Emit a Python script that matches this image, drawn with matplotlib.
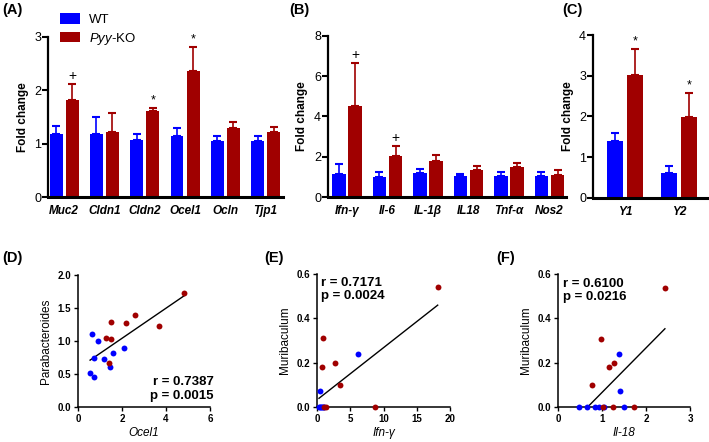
import numpy as np
import matplotlib
matplotlib.use('Agg')
import matplotlib.pyplot as plt
from matplotlib.patches import Patch

plt.rcParams['font.family'] = ['Liberation Sans', 'DejaVu Sans']

blue = '#0000FF'
red = '#A00000'

# (A) barrier genes
genesA = ['Muc2', 'Cldn1', 'Cldn2', 'Ocel1', 'Ocln', 'Tjp1']
wtA = [1.19, 1.18, 1.06, 1.15, 1.05, 1.05]
wtA_err = [0.14, 0.32, 0.12, 0.15, 0.10, 0.10]
koA = [1.82, 1.22, 1.61, 2.37, 1.29, 1.22]
koA_err = [0.29, 0.35, 0.06, 0.44, 0.11, 0.10]
sigA = ['+', '', '*', '*', '', '']

# (B) cytokines
genesB = ['Ifn-γ', 'Il-6', 'IL-1β', 'IL18', 'Tnf-α', 'Nos2']
wtB = [1.16, 0.99, 1.17, 1.02, 1.04, 1.04]
wtB_err = [0.49, 0.23, 0.20, 0.10, 0.18, 0.18]
koB = [4.53, 2.05, 1.77, 1.36, 1.47, 1.07]
koB_err = [2.13, 0.46, 0.30, 0.16, 0.20, 0.25]
sigB = ['+', '+', '', '', '', '']

# (C) receptors
genesC = ['Y1', 'Y2']
wtC = [1.40, 0.61]
wtC_err = [0.20, 0.17]
koC = [3.02, 1.98]
koC_err = [0.63, 0.60]
sigC = ['*', '*']

# (D) Ocel1 vs Parabacteroides
d_wt_x = [0.65, 0.91, 0.74, 1.17, 1.61, 2.10, 1.44, 0.55, 0.73]
d_wt_y = [1.10, 1.00, 0.74, 0.73, 0.82, 0.89, 0.60, 0.51, 0.46]
d_ko_x = [1.52, 1.26, 1.52, 1.40, 2.16, 2.61, 3.66, 4.83]
d_ko_y = [1.29, 1.05, 1.03, 0.67, 1.28, 1.40, 1.23, 1.72]

# (E) Ifn-g vs Muribaculum
e_wt_x = [6.1, 0.4, 0.3, 0.5, 0.6, 0.8, 0.9, 1.0]
e_wt_y = [0.24, 0.07, 0, 0, 0, 0, 0, 0]
e_ko_x = [18.15, 0.95, 0.75, 2.7, 3.5, 8.75, 1.3, 1.1]
e_ko_y = [0.54, 0.31, 0.18, 0.20, 0.10, 0, 0, 0]

# (F) Il-18 vs Muribaculum
f_wt_x = [1.39, 1.40, 0.48, 0.67, 0.84, 0.93, 1.05, 1.50]
f_wt_y = [0.24, 0.07, 0, 0, 0, 0, 0, 0]
f_ko_x = [2.43, 0.98, 0.78, 1.17, 1.27, 1.03, 1.25, 1.73]
f_ko_y = [0.538, 0.309, 0.098, 0.179, 0.198, 0, 0, 0]

fig = plt.figure(figsize=(7.09, 4.42), dpi=100)
W, H = 709, 442


def px_axes(l, r, t, b):
    return fig.add_axes([l / W, 1 - b / H, (r - l) / W, (b - t) / H])


def bar_panel(ax, genes, wt, wte, ko, koe, sig, ymax, step, xlim, bw, off):
    x = np.arange(len(genes))
    ax.bar(x - off, wt, bw, color=blue, zorder=2)
    ax.bar(x + off, ko, bw, color=red, zorder=2)
    ax.errorbar(x - off, wt, yerr=[np.zeros(len(wt)), wte], fmt='none',
                ecolor=blue, elinewidth=1.2, capsize=3, capthick=1.5, zorder=1)
    ax.errorbar(x + off, ko, yerr=[np.zeros(len(ko)), koe], fmt='none',
                ecolor=red, elinewidth=1.2, capsize=3, capthick=1.5, zorder=1)
    for i, s in enumerate(sig):
        if s:
            ax.annotate(s, (x[i] + off, ko[i] + koe[i]), xytext=(0, 1),
                        textcoords='offset points', ha='center', va='bottom',
                        fontsize=10 if s == '+' else 9)
    ax.set_xlim(*xlim)
    ax.set_ylim(0, ymax)
    ax.set_yticks(np.arange(0, ymax + 0.01, step))
    ax.set_xticks(x)
    ax.set_xticklabels(genes, fontsize=8.5, fontweight='bold', fontstyle='italic')
    ax.tick_params(axis='x', length=0, pad=6)
    ax.tick_params(axis='y', length=4, width=1.5, labelsize=9, pad=1)
    for s in ['top', 'right']:
        ax.spines[s].set_visible(False)
    ax.spines['left'].set_linewidth(1.6)
    ax.spines['bottom'].set_linewidth(2.2)
    ax.set_ylabel('Fold change', fontsize=8.5, fontweight='bold', labelpad=4)


axA = px_axes(48, 283, 37, 197)
bar_panel(axA, genesA, wtA, wtA_err, koA, koA_err, sigA, 3, 1, (-0.4, 5.43), 0.32, 0.2)
axB = px_axes(328, 566, 36, 197)
bar_panel(axB, genesB, wtB, wtB_err, koB, koB_err, sigB, 8, 2, (-0.47, 5.41), 0.33, 0.2)
axC = px_axes(593, 707, 35, 198)
bar_panel(axC, genesC, wtC, wtC_err, koC, koC_err, sigC, 4, 1, (-0.59, 1.52), 0.30, 0.185)

handles = [Patch(facecolor=blue, label='WT'),
           Patch(facecolor=red, label='$\\it{Pyy}$-KO')]
plt.rcParams['mathtext.fontset'] = 'custom'
plt.rcParams['mathtext.it'] = 'Liberation Sans:italic'
plt.rcParams['mathtext.rm'] = 'Liberation Sans'
fig.legend(handles=handles, loc='upper left', bbox_to_anchor=(55 / W, 1 - 8 / H),
           frameon=False, fontsize=9.5, handlelength=1.5, handleheight=0.85,
           labelspacing=0.35, handletextpad=0.7, borderaxespad=0)


def scatter_panel(ax, wx, wy, kx, ky, xmax, xstep, xlabel, ylabel, text, tpos, tha, tva):
    allx = np.array(wx + kx)
    ally = np.array(wy + ky)
    m, c = np.polyfit(allx, ally, 1)
    xs = np.array([allx.min(), allx.max()])
    ax.plot(xs, m * xs + c, color='black', lw=1.0, zorder=1)
    ax.scatter(wx, wy, s=18, color=blue, zorder=3, clip_on=False, linewidths=0)
    ax.scatter(kx, ky, s=18, color=red, zorder=3, clip_on=False, linewidths=0)
    ax.set_xlim(0, xmax)
    ax.set_xticks(np.arange(0, xmax + 0.01, xstep))
    for s in ['top', 'right']:
        ax.spines[s].set_visible(False)
    for s in ['left', 'bottom']:
        ax.spines[s].set_linewidth(1.1)
    ax.tick_params(length=3, width=1.0, labelsize=7, pad=2)
    for lab in ax.get_xticklabels() + ax.get_yticklabels():
        lab.set_fontweight('bold')
    ax.set_xlabel(xlabel, fontsize=8.5, fontstyle='italic', labelpad=2)
    ax.set_ylabel(ylabel, fontsize=8.5, labelpad=4)
    ax.text(tpos[0], tpos[1], text, transform=ax.transAxes, ha=tha, va=tva,
            fontsize=9.5, fontweight='bold', linespacing=1.15)


axD = px_axes(78, 210, 275, 407)
axD.set_ylim(0, 2.0)
axD.set_yticks([0, 0.5, 1.0, 1.5, 2.0])
axD.set_yticklabels(['0.0', '0.5', '1.0', '1.5', '2.0'])
scatter_panel(axD, d_wt_x, d_wt_y, d_ko_x, d_ko_y, 6, 2, 'Ocel1', 'Parabacteroides',
              'r = 0.7387\np = 0.0015', (1.03, 0.04), 'right', 'bottom')

axE = px_axes(317, 450, 274, 407)
axE.set_ylim(0, 0.6)
axE.set_yticks([0, 0.2, 0.4, 0.6])
axE.set_yticklabels(['0.0', '0.2', '0.4', '0.6'])
scatter_panel(axE, e_wt_x, e_wt_y, e_ko_x, e_ko_y, 20, 5, 'Ifn-γ', 'Muribaculum',
              'r = 0.7171\np = 0.0024', (0.03, 0.98), 'left', 'top')

axF = px_axes(558, 690, 274, 407)
axF.set_ylim(0, 0.6)
axF.set_yticks([0, 0.2, 0.4, 0.6])
axF.set_yticklabels(['0.0', '0.2', '0.4', '0.6'])
scatter_panel(axF, f_wt_x, f_wt_y, f_ko_x, f_ko_y, 3, 1, 'Il-18', 'Muribaculum',
              'r = 0.6100\np = 0.0216', (0.04, 0.97), 'left', 'top')

for lab, x, y in [('(A)', 2, 3), ('(B)', 289, 3), ('(C)', 562, 3),
                  ('(D)', 2, 251), ('(E)', 264, 251), ('(F)', 496, 251)]:
    fig.text(x / W, 1 - y / H, lab, fontsize=10.5, fontweight='bold', ha='left', va='top')

fig.savefig('out.png', dpi=100)
